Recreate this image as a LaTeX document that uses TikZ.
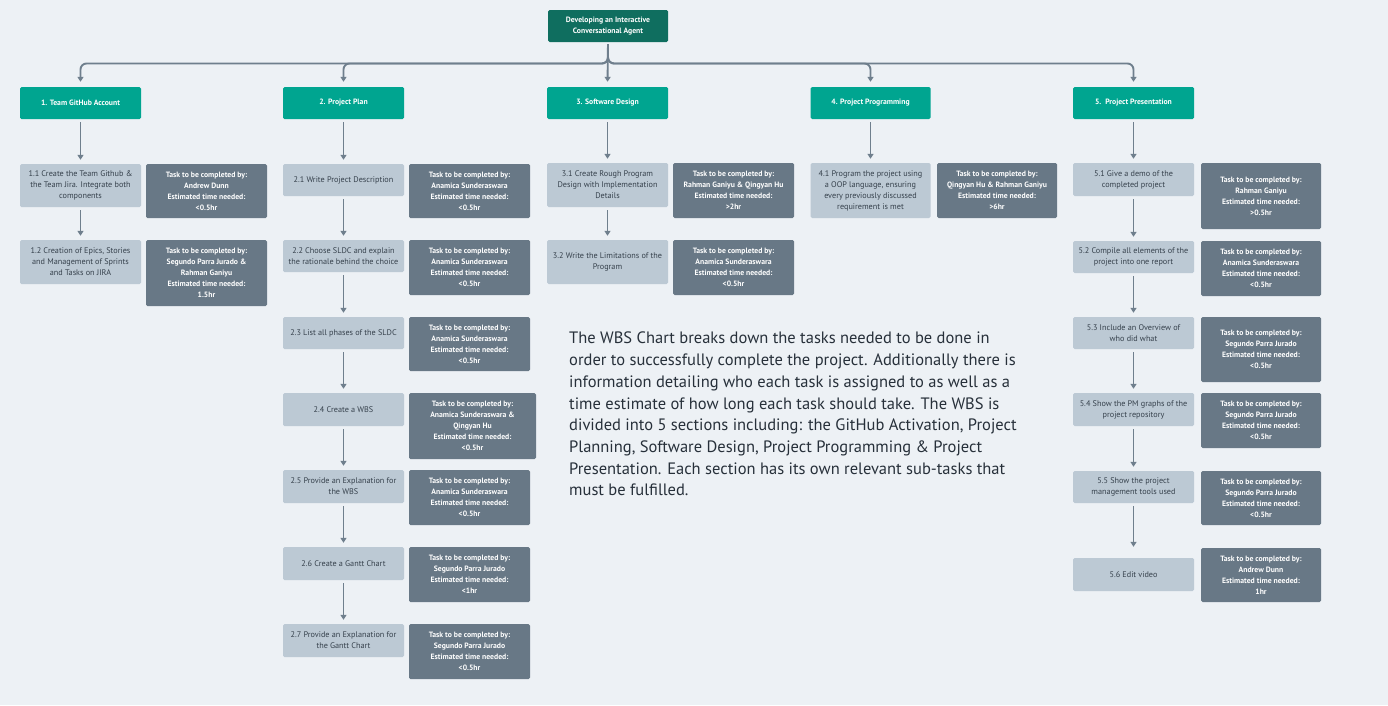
\documentclass[tikz,border=0pt]{standalone}
\usepackage{fontspec}
\setmainfont{PT Sans}
\usetikzlibrary{arrows.meta}
\definecolor{bg}{HTML}{EDF1F5}
\definecolor{rootc}{HTML}{0F6E5F}
\definecolor{headc}{HTML}{00A590}
\definecolor{lightc}{HTML}{BCC9D4}
\definecolor{darkc}{HTML}{687886}
\definecolor{linec}{HTML}{6F7F8D}
\definecolor{ltext}{HTML}{36414C}
\definecolor{desctext}{HTML}{27303A}
\begin{document}
\begin{tikzpicture}[x=1pt,y=-1pt,
 box/.style={rectangle, rounded corners=1.5pt, inner sep=2pt, align=center, font=\fontsize{8.2}{11}\selectfont},
 wbox/.style={box, text=white, font=\fontsize{7.7}{11}\selectfont\bfseries},
 rootbox/.style={wbox, fill=rootc, minimum width=120pt, minimum height=32pt},
 headbox/.style={wbox, fill=headc, minimum width=121pt, minimum height=32pt},
 lbox/.style={box, fill=lightc, text=ltext, minimum width=121pt},
 dbox/.style={wbox, fill=darkc, minimum width=121pt},
 conn/.style={draw=linec, line width=1.9pt, -{Triangle[width=6pt,length=5pt]}},
 sub/.style={conn, shorten <=3pt, shorten >=4pt},
]
\fill[bg] (0,0) rectangle (1388,705);
\useasboundingbox (0,0) rectangle (1388,705);
\coordinate (bus) at (0,63.5);

% root and headers
\node[rootbox] (root) at (608,26) {Developing an Interactive\\Conversational Agent};
\node[headbox] (h1) at (80.5,103) {1. Team GitHub Account};
\node[headbox] (h2) at (343.5,103) {2. Project Plan};
\node[headbox] (h3) at (607.5,103) {3. Software Design};
\node[headbox, minimum width=120pt] (h4) at (870.5,103) {4. Project Programming};
\node[headbox] (h5) at (1133.5,103) {5.\ \ Project Presentation};

% column 1
\node[lbox, minimum height=43pt] (t11) at (80.5,185.5) {1.1 Create the Team Github \&\\the Team Jira. Integrate both\\components};
\node[dbox, minimum height=54pt] (d11) at (206.5,191) {Task to be completed by:\\Andrew Dunn\\Estimated time needed:\\<0.5hr};
\node[lbox, minimum height=44pt] (t12) at (80.5,262) {1.2 Creation of Epics, Stories\\and Management of Sprints\\and Tasks on JIRA};
\node[dbox, minimum height=66pt] (d12) at (206.5,273) {Task to be completed by:\\Segundo Parra Jurado \&\\Rahman Ganiyu\\Estimated time needed:\\1.5hr};

% column 2
\node[lbox, minimum height=32pt] (t21) at (343.5,180) {2.1 Write Project Description};
\node[dbox, minimum height=54pt] (d21) at (469.5,191) {Task to be completed by:\\Anamica Sunderaswara\\Estimated time needed:\\<0.5hr};
\node[lbox, minimum height=32pt] (t22) at (343.5,256) {2.2 Choose SLDC and explain\\the rationale behind the choice};
\node[dbox, minimum height=55pt] (d22) at (469.5,267.5) {Task to be completed by:\\Anamica Sunderaswara\\Estimated time needed:\\<0.5hr};
\node[lbox, minimum height=32pt] (t23) at (343.5,333) {2.3 List all phases of the SLDC};
\node[dbox, minimum height=54pt] (d23) at (469.5,344) {Task to be completed by:\\Anamica Sunderaswara\\Estimated time needed:\\<0.5hr};
\node[lbox, minimum height=33pt] (t24) at (343.5,409.5) {2.4 Create a WBS};
\node[dbox, minimum height=66pt, minimum width=127pt] (d24) at (472.5,426) {Task to be completed by:\\Anamica Sunderaswara \&\\Qingyan Hu\\Estimated time needed:\\<0.5hr};
\node[lbox, minimum height=33pt] (t25) at (343.5,486.5) {2.5 Provide an Explanation for\\the WBS};
\node[dbox, minimum height=55pt] (d25) at (469.5,497.5) {Task to be completed by:\\Anamica Sunderaswara\\Estimated time needed:\\<0.5hr};
\node[lbox, minimum height=33pt] (t26) at (343.5,563.5) {2.6 Create a Gantt Chart};
\node[dbox, minimum height=55pt] (d26) at (469.5,574.5) {Task to be completed by:\\Segundo Parra Jurado\\Estimated time needed:\\<1hr};
\node[lbox, minimum height=33pt] (t27) at (343.5,640.5) {2.7 Provide an Explanation for\\the Gantt Chart};
\node[dbox, minimum height=55pt] (d27) at (469.5,651.5) {Task to be completed by:\\Segundo Parra Jurado\\Estimated time needed:\\<0.5hr};

% column 3
\node[lbox, minimum height=44pt] (t31) at (607.5,185) {3.1 Create Rough Program\\Design with Implementation\\Details};
\node[dbox, minimum height=55pt] (d31) at (733.5,190.5) {Task to be completed by:\\Rahman Ganiyu \& Qingyan Hu\\Estimated time needed:\\>2hr};
\node[lbox, minimum height=44pt] (t32) at (607.5,262) {3.2 Write the Limitations of the\\Program};
\node[dbox, minimum height=55pt] (d32) at (733.5,267.5) {Task to be completed by:\\Anamica Sunderaswara\\Estimated time needed:\\<0.5hr};

% column 4
\node[lbox, minimum height=55pt, minimum width=120pt] (t41) at (870.5,190.5) {4.1 Program the project using\\a OOP language, ensuring\\every previously discussed\\requirement is met};
\node[dbox, minimum height=55pt, minimum width=120pt] (d41) at (997,190.5) {Task to be completed by:\\Qingyan Hu \& Rahman Ganiyu\\Estimated time needed:\\>6hr};

% column 5
\node[lbox, minimum height=33pt] (t51) at (1133.5,179.5) {5.1 Give a demo of the\\completed project};
\node[dbox, minimum height=66pt, minimum width=120pt] (d51) at (1261,196) {Task to be completed by:\\Rahman Ganiyu\\Estimated time needed:\\>0.5hr};
\node[lbox, minimum height=32pt] (t52) at (1133.5,257) {5.2 Compile all elements of the\\project into one report};
\node[dbox, minimum height=55pt, minimum width=120pt] (d52) at (1261,268.5) {Task to be completed by:\\Anamica Sunderaswara\\Estimated time needed:\\<0.5hr};
\node[lbox, minimum height=32pt] (t53) at (1133.5,333) {5.3 Include an Overview of\\who did what};
\node[dbox, minimum height=65pt, minimum width=120pt] (d53) at (1261,349.5) {Task to be completed by:\\Segundo Parra Jurado\\Estimated time needed:\\<0.5hr};
\node[lbox, minimum height=33pt] (t54) at (1133.5,409.5) {5.4 Show the PM graphs of the\\project repository};
\node[dbox, minimum height=55pt, minimum width=120pt] (d54) at (1261,420.5) {Task to be completed by:\\Segundo Parra Jurado\\Estimated time needed:\\<0.5hr};
\node[lbox, minimum height=32pt] (t55) at (1133.5,487) {5.5 Show the project\\management tools used};
\node[dbox, minimum height=54pt, minimum width=120pt] (d55) at (1261,498) {Task to be completed by:\\Segundo Parra Jurado\\Estimated time needed:\\<0.5hr};
\node[lbox, minimum height=33pt] (t56) at (1133.5,574.5) {5.6 Edit video};
\node[dbox, minimum height=54pt, minimum width=120pt] (d56) at (1261,575) {Task to be completed by:\\Andrew Dunn\\Estimated time needed:\\1hr};

% description
\node[anchor=north west, inner sep=0pt, align=left, text=desctext, font=\fontsize{16.5}{21.7}\selectfont] (desc) at (569,332) {The WBS Chart breaks down the tasks needed to be done in\\order to successfully complete the project. Additionally there is\\information detailing who each task is assigned to as well as a\\time estimate of how long each task should take. The WBS is\\divided into 5 sections including: the GitHub Activation, Project\\Planning, Software Design, Project Programming \& Project\\Presentation. Each section has its own relevant sub-tasks that\\must be fulfilled.};

% top connectors
\draw[conn, rounded corners=6pt, shorten <=2pt, shorten >=5pt] (root.south) |- (h1.north |- bus) -- (h1.north);
\draw[conn, rounded corners=6pt, shorten <=2pt, shorten >=5pt] (root.south) |- (h2.north |- bus) -- (h2.north);
\draw[conn, shorten <=2pt, shorten >=5pt] (root.south) -- (h3.north);
\draw[conn, rounded corners=6pt, shorten <=2pt, shorten >=5pt] (root.south) |- (h4.north |- bus) -- (h4.north);
\draw[conn, rounded corners=6pt, shorten <=2pt, shorten >=5pt] (root.south) |- (h5.north |- bus) -- (h5.north);

% sub connectors
\draw[sub] (h1) -- (t11);
\draw[sub] (t11) -- (t12);
\draw[sub] (h2) -- (t21);
\draw[sub] (t21) -- (t22);
\draw[sub] (t22) -- (t23);
\draw[sub] (t23) -- (t24);
\draw[sub] (t24) -- (t25);
\draw[sub] (t25) -- (t26);
\draw[sub] (t26) -- (t27);
\draw[sub] (h3) -- (t31);
\draw[sub] (t31) -- (t32);
\draw[sub] (h4) -- (t41);
\draw[sub] (h5) -- (t51);
\draw[sub] (t51) -- (t52);
\draw[sub] (t52) -- (t53);
\draw[sub] (t53) -- (t54);
\draw[sub] (t54) -- (t55);
\draw[sub, shorten >=11pt] (t55) -- (t56);
\end{tikzpicture}
\end{document}
